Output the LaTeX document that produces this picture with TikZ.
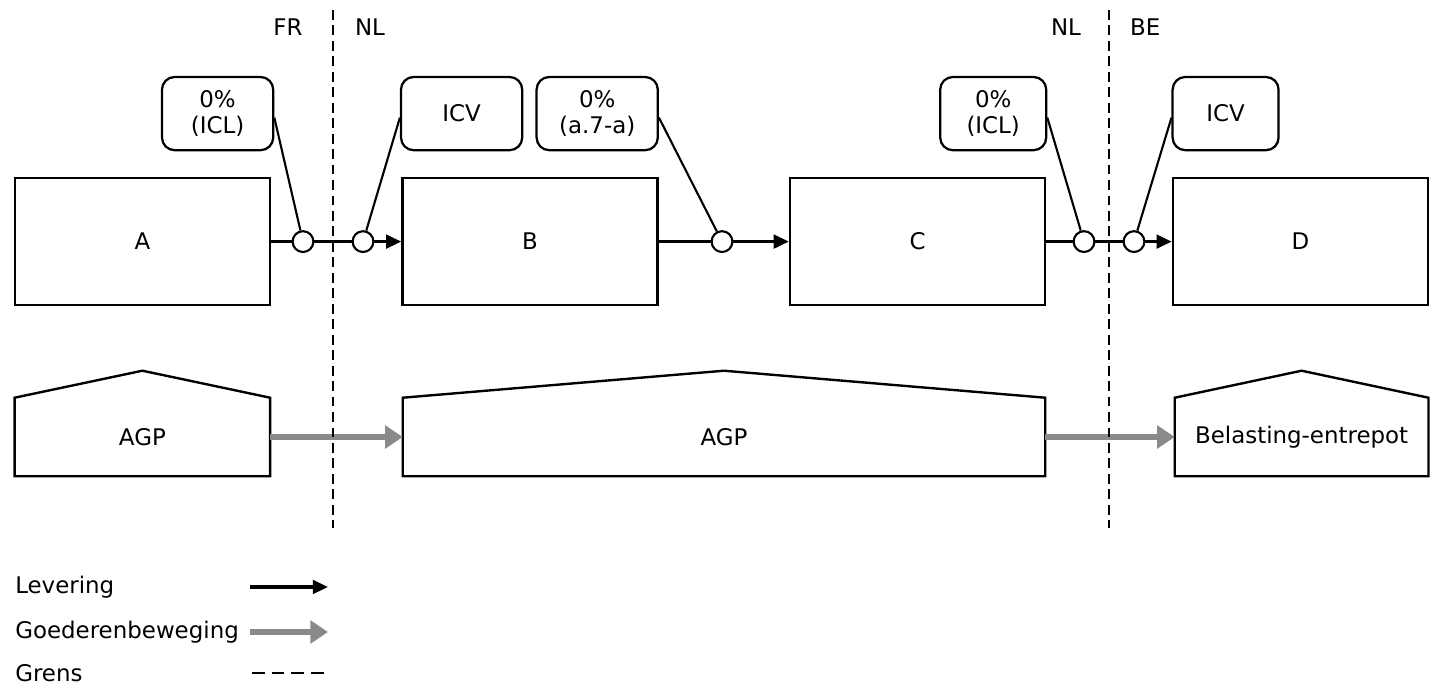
\documentclass[tikz,border=0pt]{standalone}
\usepackage{fontspec}
\setmainfont{DejaVu Sans}
\usetikzlibrary{arrows.meta,positioning}
\definecolor{flowGray}{RGB}{138,138,138}
\colorlet{ink}{black}
\newcommand{\labelfont}{\fontsize{16.3}{18.5}\selectfont}
\tikzset{
  arrow/.style={-{Triangle[length=3.8mm,width=3.4mm]}, draw=ink, line width=2.2pt},
  link/.style={draw=ink, line width=2.2pt},
  flow/.style={-{Triangle[length=4.4mm,width=5.6mm]}, draw=flowGray, line width=4.4pt},
  border/.style={draw=ink, line width=2pt, dash pattern=on 7pt off 4pt},
  pointer/.style={draw=ink, line width=1.5pt},
  box/.style={
    draw=ink,
    fill=white,
    line width=1.7pt,
    minimum width=6.375cm,
    minimum height=3.175cm,
    font=\labelfont
  },
  callout/.style={
    rounded corners=9pt,
    draw=ink,
    fill=white,
    line width=1.6pt,
    minimum height=1.83cm,
    inner sep=2pt,
    align=center,
    font=\labelfont
  },
  junction/.style={circle, draw=ink, fill=white, line width=1.5pt, minimum size=0.52cm, inner sep=0pt},
  depot/.style={
    minimum height=1.95cm,
    font=\labelfont
  },
  wall/.style={draw=ink, line width=1.7pt, line join=miter},
  country/.style={font=\labelfont},
  legend/.style={anchor=west, inner sep=0pt, font=\labelfont}
}

\begin{document}
\begin{tikzpicture}[x=1cm,y=1cm]
  \useasboundingbox (0,0) rectangle (36,17.35);

  % parties
  \node[box] (a) at (3.56,11.31) {A};
  \node[box] (b) at (13.25,11.31) {B};
  \node[box] (c) at (22.94,11.31) {C};
  \node[box] (d) at (32.51,11.31) {D};

  \node[junction] (ab1) at (7.575,11.31) {};
  \node[junction] (ab2) at (9.075,11.31) {};
  \node[junction] (bc) at (18.05,11.31) {};
  \node[junction] (cd1) at (27.1,11.31) {};
  \node[junction] (cd2) at (28.35,11.31) {};

  \node[callout, minimum width=2.78cm] (iclA) at (5.44,14.51) {0\%\\(ICL)};
  \node[callout, minimum width=3.03cm] (icvB) at (11.54,14.51) {ICV};
  \node[callout, minimum width=3.03cm] (rateC) at (14.93,14.51) {0\%\\(a.7-a)};
  \node[callout, minimum width=2.65cm] (iclC) at (24.83,14.51) {0\%\\(ICL)};
  \node[callout, minimum width=2.65cm] (icvD) at (30.64,14.51) {ICV};

  \draw[link] (a.east) -- (ab1);
  \draw[link] (ab1) -- (ab2);
  \draw[arrow] (ab2) -- (b.west);
  \draw[link] (b.east) -- (bc);
  \draw[arrow] (bc) -- (c.west);
  \draw[link] (c.east) -- (cd1);
  \draw[link] (cd1) -- (cd2);
  \draw[arrow] (cd2) -- (d.west);

  \draw[pointer] ([yshift=-0.1cm]iclA.east) -- (ab1);
  \draw[pointer] ([yshift=-0.1cm]icvB.west) -- (ab2);
  \draw[pointer] ([yshift=-0.1cm]rateC.east) -- (bc);
  \draw[pointer] ([yshift=-0.1cm]iclC.east) -- (cd1);
  \draw[pointer] ([yshift=-0.1cm]icvD.west) -- (cd2);

  % warehouses
  \node[depot, minimum width=6.375cm] (agpA) at (3.56,6.425) {AGP};
  \node[depot, minimum width=16.05cm] (agpB) at (18.1,6.425) {AGP};
  \node[depot, minimum width=6.33cm] (entrepot) at (32.54,6.425) {Belasting-entrepot};

  \draw[wall] (agpA.north west) -- (agpA.south west) -- (agpA.south east) -- (agpA.north east)
    -- ([yshift=0.675cm]agpA.north) -- cycle;
  \draw[wall] (agpB.north west) -- (agpB.south west) -- (agpB.south east) -- (agpB.north east)
    -- ([yshift=0.675cm]agpB.north) -- cycle;
  \draw[wall] (entrepot.north west) -- (entrepot.south west) -- (entrepot.south east) -- (entrepot.north east)
    -- ([yshift=0.675cm]entrepot.north) -- cycle;

  \draw[flow] (agpA.east) -- (agpB.west);
  \draw[flow] (agpB.east) -- (entrepot.west);

  % borders
  \coordinate (frTop) at (8.325,17.1);
  \coordinate (frBottom) at (8.325,4.15);
  \coordinate (beTop) at (27.725,17.1);
  \coordinate (beBottom) at (27.725,4.15);
  \draw[border] (frTop) -- (frBottom);
  \draw[border] (beTop) -- (beBottom);

  \node[country] (fr) at (7.2,16.68) {FR};
  \node[country] (nlA) at (9.25,16.68) {NL};
  \node[country] (nlB) at (26.65,16.68) {NL};
  \node[country] (be) at (28.63,16.68) {BE};

  % legend
  \node[legend] (lev) at (0.375,2.675) {Levering};
  \node[legend] (goed) at (0.375,1.55) {Goederenbeweging};
  \node[legend] (grens) at (0.375,0.525) {Grens};
  \coordinate (levFrom) at (6.25,2.675);
  \coordinate (levTo) at (8.2,2.675);
  \coordinate (goedFrom) at (6.25,1.55);
  \coordinate (goedTo) at (8.2,1.55);
  \coordinate (grensFrom) at (6.3,0.525);
  \coordinate (grensTo) at (8.2,0.525);
  \draw[arrow] (levFrom) -- (levTo);
  \draw[flow] (goedFrom) -- (goedTo);
  \draw[border, dash pattern=on 9pt off 5pt] (grensFrom) -- (grensTo);
\end{tikzpicture}
\end{document}
